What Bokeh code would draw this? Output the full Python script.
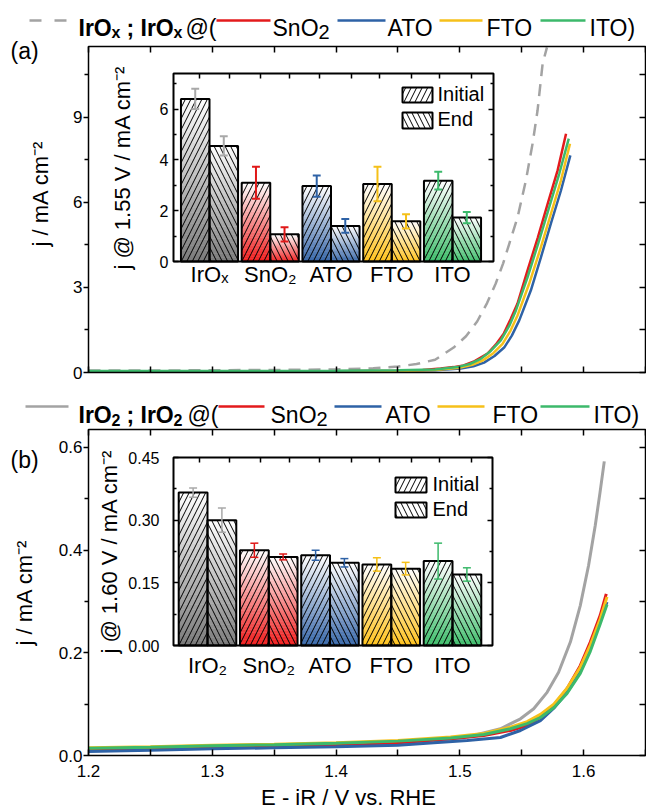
import numpy as np
from bokeh.plotting import figure
from bokeh.models import (Range1d, LinearAxis, FixedTicker, PrintfTickFormatter,
                          CustomJSTickFormatter)
from bokeh.layouts import column
from bokeh.embed import file_html
from bokeh.resources import INLINE
from bokeh.core.properties import value

FONT = "Liberation Sans"

# ---------------- panel (a) LSV data ----------------
E_a_IrOx = [1.20, 1.25, 1.30, 1.35, 1.40, 1.43, 1.45, 1.465, 1.48, 1.495, 1.505, 1.514, 1.522, 1.529,
            1.535, 1.540, 1.5466, 1.5534, 1.5588, 1.5628, 1.5669, 1.5704]
j_a_IrOx = [0.07, 0.07, 0.08, 0.09, 0.11, 0.15, 0.21, 0.30, 0.45, 0.88, 1.28, 1.80, 2.45, 3.14,
            3.85, 4.55, 5.47, 6.78, 8.08, 9.25, 10.90, 11.47]
E_a_SnO2 = [1.20, 1.30, 1.40, 1.45, 1.470, 1.4845, 1.495, 1.503, 1.512, 1.5224, 1.529, 1.5356, 1.541,
            1.5466, 1.5547, 1.563, 1.571, 1.579, 1.5858]
j_a_SnO2 = [0.03, 0.03, 0.04, 0.06, 0.09, 0.14, 0.19, 0.25, 0.40, 0.67, 0.98, 1.38, 1.88,
            2.43, 3.60, 4.76, 5.96, 7.13, 8.42]
E_a_ATO = [1.20, 1.30, 1.40, 1.45, 1.48, 1.5007, 1.511, 1.5196, 1.528, 1.5358, 1.542, 1.548, 1.5574,
           1.5655, 1.5736, 1.5817, 1.5893]
j_a_ATO = [0.03, 0.03, 0.03, 0.05, 0.08, 0.14, 0.22, 0.35, 0.58, 0.88, 1.30, 1.84, 2.90,
           4.06, 5.26, 6.42, 7.66]
E_a_FTO = [1.20, 1.30, 1.40, 1.45, 1.48, 1.4994, 1.510, 1.5183, 1.527, 1.5345, 1.541, 1.5466, 1.556,
           1.5655, 1.5736, 1.5817, 1.589]
j_a_FTO = [0.03, 0.03, 0.04, 0.05, 0.09, 0.17, 0.27, 0.42, 0.68, 1.01, 1.48, 2.01, 3.13,
           4.42, 5.60, 6.78, 8.07]
E_a_ITO = [1.20, 1.30, 1.40, 1.45, 1.48, 1.498, 1.508, 1.5169, 1.525, 1.5331, 1.540, 1.5453, 1.5547,
           1.5641, 1.5722, 1.5803, 1.588]
j_a_ITO = [0.05, 0.05, 0.06, 0.08, 0.11, 0.19, 0.30, 0.48, 0.76, 1.13, 1.65, 2.19, 3.36,
           4.66, 5.83, 7.01, 8.25]

# ---------------- panel (b) LSV data ----------------
E_b_IrO2 = [1.20, 1.25, 1.30, 1.35, 1.40, 1.45, 1.479, 1.506, 1.5328, 1.549, 1.5597, 1.5705, 1.5798,
            1.5893, 1.5973, 1.604, 1.6094, 1.6133, 1.6167]
j_b_IrO2 = [0.012, 0.015, 0.018, 0.020, 0.022, 0.025, 0.028, 0.036, 0.052, 0.0715, 0.091, 0.123, 0.162,
            0.221, 0.292, 0.370, 0.448, 0.513, 0.573]
E_b_SnO2 = [1.20, 1.25, 1.30, 1.35, 1.40, 1.45, 1.4925, 1.5194, 1.5409, 1.5544, 1.5651, 1.5759, 1.5866,
            1.5973, 1.6054, 1.6134, 1.6183]
j_b_SnO2 = [0.012, 0.014, 0.016, 0.019, 0.021, 0.025, 0.0325, 0.039, 0.0487, 0.0585, 0.0747, 0.0975, 0.130,
            0.175, 0.221, 0.273, 0.315]
E_b_ATO = [1.20, 1.25, 1.30, 1.35, 1.40, 1.45, 1.479, 1.506, 1.5328, 1.549, 1.5651, 1.5759, 1.5866,
           1.5973, 1.6054, 1.6134, 1.6189]
j_b_ATO = [0.008, 0.010, 0.013, 0.015, 0.017, 0.020, 0.0247, 0.0292, 0.035, 0.0487, 0.068, 0.092, 0.123,
           0.163, 0.211, 0.262, 0.299]
E_b_FTO = [1.20, 1.25, 1.30, 1.35, 1.40, 1.45, 1.4925, 1.5194, 1.5409, 1.5544, 1.5651, 1.5759, 1.5866,
           1.5973, 1.6054, 1.6134, 1.6189]
j_b_FTO = [0.015, 0.017, 0.020, 0.022, 0.025, 0.029, 0.036, 0.043, 0.055, 0.066, 0.080, 0.100, 0.131,
           0.172, 0.215, 0.266, 0.309]
E_b_ITO = [1.20, 1.25, 1.30, 1.35, 1.40, 1.45, 1.4925, 1.5194, 1.5409, 1.5544, 1.5651, 1.5759, 1.5866,
           1.5973, 1.6054, 1.6134, 1.6189]
j_b_ITO = [0.014, 0.016, 0.019, 0.021, 0.024, 0.028, 0.034, 0.041, 0.052, 0.062, 0.074, 0.093, 0.121,
           0.160, 0.203, 0.256, 0.294]

# ---------------- inset bar data ----------------
cats_a = ["IrOₓ", "SnO₂", "ATO", "FTO", "ITO"]
init_a = [6.40, 3.10, 2.97, 3.05, 3.18]
init_a_err = [0.40, 0.63, 0.42, 0.68, 0.35]
end_a = [4.55, 1.07, 1.40, 1.58, 1.73]
end_a_err = [0.38, 0.28, 0.27, 0.28, 0.22]

cats_b = ["IrO₂", "SnO₂", "ATO", "FTO", "ITO"]
init_b = [0.366, 0.228, 0.216, 0.194, 0.202]
init_b_err = [0.011, 0.017, 0.012, 0.016, 0.043]
end_b = [0.300, 0.212, 0.198, 0.184, 0.170]
end_b_err = [0.029, 0.007, 0.010, 0.015, 0.016]

x_ticks = [1.2, 1.3, 1.4, 1.5, 1.6]
x_minor = [1.25, 1.35, 1.45, 1.55, 1.65]

# ---------------- styles ----------------
C_GRAY = "#a3a3a3"
C_RED = "#e31a1c"
C_BLUE = "#2e62a6"
C_YEL = "#f6c01a"
C_GRN = "#3cb96b"
BAR_BASE = ["#7a7a7a", "#f01c1c", "#3766a8", "#ffc21a", "#3dbd6a"]
ERR_COL = ["#a8a8a8", "#e01818", "#2e62a6", "#f5c018", "#3cb96b"]
BLANK = "return '';"


def mix(hexc, t):
    r, g, b = int(hexc[1:3], 16), int(hexc[3:5], 16), int(hexc[5:7], 16)
    return "#%02x%02x%02x" % (round(r + (255 - r) * t), round(g + (255 - g) * t), round(b + (255 - b) * t))


def style_axis(ax, size="17px"):
    ax.major_label_text_font = FONT
    ax.major_label_text_font_size = size
    ax.major_label_text_color = "black"
    ax.axis_label_text_font = FONT
    ax.axis_label_text_font_style = "normal"
    ax.axis_label_text_font_size = "22px"
    ax.axis_label_text_color = "black"
    ax.axis_line_color = "black"
    ax.axis_line_width = 1.5
    ax.major_tick_line_color = "black"
    ax.minor_tick_line_color = "black"
    ax.major_tick_line_width = 1.5
    ax.minor_tick_line_width = 1.5


def mk_axis(p, side, loc, bounds, ticker, fmt=None, tin=0, tout=0, min_in=0, min_out=0, standoff=0,
            size="17px", label=None, label_standoff=0, line=True, lw=1.5, **kw):
    ax = LinearAxis(fixed_location=loc, bounds=bounds, ticker=ticker,
                    formatter=fmt if fmt is not None else CustomJSTickFormatter(code=BLANK), **kw)
    style_axis(ax, size)
    ax.axis_line_width = lw
    if not line:
        ax.axis_line_color = None
    ax.major_tick_in, ax.major_tick_out, ax.minor_tick_in, ax.minor_tick_out = tin, tout, min_in, min_out
    ax.major_label_standoff = standoff
    if label is not None:
        ax.axis_label = label
        ax.axis_label_standoff = label_standoff
    p.add_layout(ax, side)
    return ax


class Panel:
    """Maps reference-pixel layout positions to data coordinates of a full-canvas figure."""

    def __init__(self, fig_top, fig_h, box, xr, yr):
        self.fig_top, self.fig_h, self.box, self.xr, self.yr = fig_top, fig_h, box, xr, yr

    def X(self, px):
        b = self.box
        return self.xr[0] + (px - b["left"]) * (self.xr[1] - self.xr[0]) / (b["right"] - b["left"])

    def Y(self, py):
        b = self.box
        return self.yr[0] + (b["bottom"] - py) * (self.yr[1] - self.yr[0]) / (b["bottom"] - b["top"])


def main_fig(P, yticks, yminor, yfmt, ylabel, ytitle_bounds, ytitle_standoff, show_x):
    p = figure(width=646, height=P.fig_h,
               x_range=Range1d(P.X(0), P.X(646)),
               y_range=Range1d(P.Y(P.fig_top + P.fig_h), P.Y(P.fig_top)),
               output_backend="svg", toolbar_location=None,
               x_axis_location=None, y_axis_location=None, min_border=0)
    p.grid.visible = False
    p.outline_line_color = None
    p.background_fill_color = "white"
    p.border_fill_color = "white"
    x0, x1 = P.xr
    y0, y1 = P.yr
    xt = FixedTicker(ticks=x_ticks, minor_ticks=x_minor)
    yt = FixedTicker(ticks=yticks, minor_ticks=yminor)
    mk_axis(p, "below", y0, (x0, x1), xt,
            fmt=PrintfTickFormatter(format="%.1f") if show_x else None,
            tin=6, min_in=6, standoff=9 if show_x else 0, line=False)
    if show_x:
        mk_axis(p, "below", y0, (1.2, 1.62), FixedTicker(ticks=[]), label="E - iR / V vs. RHE",
                label_standoff=29, line=False)
    mk_axis(p, "above", y1, (x0, x1), xt, tin=6, min_in=6, line=False)
    mk_axis(p, "left", x0, (y0, y1), yt, fmt=PrintfTickFormatter(format=yfmt),
            tout=5, min_out=4, standoff=1, line=False)
    mk_axis(p, "left", x0, ytitle_bounds, FixedTicker(ticks=[]), label=ylabel,
            label_standoff=ytitle_standoff, line=False)
    mk_axis(p, "right", x1, (y0, y1), yt, tin=6, min_in=6, line=False)
    return p


def frame_box(p, P):
    p.quad(left=[P.xr[0]], right=[P.xr[1]], bottom=[P.yr[0]], top=[P.yr[1]],
           fill_color=None, line_color="black", line_width=1.5)


def add_inset(p, P, box, c1px, c5px, ymax, cats, init, init_err, end, end_err, yticks, yminor, yfmt,
              ylabel, tick_standoff, title_standoff, cat_standoff, err_w, leg, top_ticks_px):
    ux = 4.0 / (c5px - c1px)
    uy = ymax / (box["bottom"] - box["top"])

    def X(px):
        return 1 + (px - c1px) * ux

    def Y(py):
        return (box["bottom"] - py) * uy

    p.extra_x_ranges = {"ix": Range1d(X(0), X(646))}
    p.extra_y_ranges = {"iy": Range1d(Y(P.fig_top + P.fig_h), Y(P.fig_top))}
    kw = dict(x_range_name="ix", y_range_name="iy")
    xl, xr = X(box["left"]), X(box["right"])
    p.quad(left=[xl], right=[xr], bottom=[0], top=[ymax], fill_color="white", line_color=None, **kw)

    centers = np.arange(1, len(cats) + 1, dtype=float)
    W = 0.47
    NS = 30
    L, R, B, T, C = [], [], [], [], []
    for i, c in enumerate(centers):
        for lo, hi, v in [(c - W, c, init[i]), (c, c + W, end[i])]:
            for k in range(NS):
                L.append(lo); R.append(hi)
                B.append(v * k / NS); T.append(v * (k + 1) / NS)
                C.append(mix(BAR_BASE[i], (k + 0.5) / NS))
    p.quad(left=L, right=R, bottom=B, top=T, fill_color=C, line_color=C, line_width=0.6, **kw)
    hatch = dict(hatch_color="black", hatch_scale=11, hatch_weight=1, line_color="black", line_width=2)
    p.quad(left=centers - W, right=centers, bottom=0, top=init, fill_color=None,
           hatch_pattern="/", **hatch, **kw)
    p.quad(left=centers, right=centers + W, bottom=0, top=end, fill_color=None,
           hatch_pattern="\\", **hatch, **kw)

    xe = np.concatenate([centers - W / 2, centers + W / 2])
    v = np.array(list(init) + list(end))
    e = np.array(list(init_err) + list(end_err))
    cols = ERR_COL * 2
    cw = 0.065
    p.segment(x0=xe, y0=v - e, x1=xe, y1=v + e, line_color=cols, line_width=err_w, **kw)
    p.segment(x0=xe - cw, y0=v + e, x1=xe + cw, y1=v + e, line_color=cols, line_width=err_w, **kw)
    p.segment(x0=xe - cw, y0=v - e, x1=xe + cw, y1=v - e, line_color=cols, line_width=err_w, **kw)

    # inset legend
    (bx0, bx1), (iy0, iy1), (ey0, ey1), tx, (ty1, ty2) = leg
    p.quad(left=[X(bx0)] * 2, right=[X(bx1)] * 2, bottom=[Y(iy1), Y(ey1)], top=[Y(iy0), Y(ey0)],
           fill_color="white", line_color=None, **kw)
    p.quad(left=[X(bx0)], right=[X(bx1)], bottom=[Y(iy1)], top=[Y(iy0)], fill_color=None,
           hatch_pattern="/", **hatch, **kw)
    p.quad(left=[X(bx0)], right=[X(bx1)], bottom=[Y(ey1)], top=[Y(ey0)], fill_color=None,
           hatch_pattern="\\", **hatch, **kw)
    p.text(x=[X(tx)] * 2, y=[Y(ty1), Y(ty2)], text=["Initial", "End"], text_font=value(FONT),
           text_font_size="20px", text_baseline="middle", text_align="left", text_color="black", **kw)

    p.quad(left=[xl], right=[xr], bottom=[0], top=[ymax], fill_color=None, line_color="black",
           line_width=2, **kw)

    yt = FixedTicker(ticks=yticks, minor_ticks=yminor)
    mk_axis(p, "left", xl, (0, ymax), yt, fmt=PrintfTickFormatter(format=yfmt), tin=5, min_in=3,
            standoff=tick_standoff, size="16px", label=ylabel, label_standoff=title_standoff,
            line=False, **kw)
    ab = mk_axis(p, "below", 0, (xl, xr), FixedTicker(ticks=[1, 2, 3, 4, 5], minor_ticks=[]),
                 fmt=PrintfTickFormatter(format="%d"), standoff=cat_standoff, size="22px", line=False, **kw)
    ab.major_label_overrides = {i + 1: cats[i] for i in range(len(cats))}
    mk_axis(p, "above", ymax, (xl, xr), FixedTicker(ticks=[X(t) for t in top_ticks_px], minor_ticks=[]),
            tin=5, line=False, **kw)
    mk_axis(p, "right", xr, (0, ymax), yt, tin=5, min_in=3, line=False, **kw)


def txt(p, P, X, Y, s, size="23px", bold=False):
    p.text(x=[P.X(X)], y=[P.Y(Y)], text=[s], text_font=value(FONT), text_font_size=size,
           text_font_style="bold" if bold else "normal", text_color="black",
           text_baseline="alphabetic", text_align="left")


def sample(p, P, X0, X1, Y, color, dash="solid", width=2.5):
    p.line([P.X(X0), P.X(X1)], [P.Y(Y), P.Y(Y)], line_color=color, line_width=width, line_dash=dash)


TOP_TICKS = [199, 229, 260, 289, 319, 351, 379, 411, 439, 471]

# ================= panel (a) =================
PA = Panel(0, 390, dict(left=88, right=645, top=46, bottom=372), (1.2, 1.65), (0, 11.5))
pa = main_fig(PA, [0, 3, 6, 9], [1.5, 4.5, 7.5, 10.5], "%d", "j / mA cm⁻²", (1.14, 11.5), 36, False)
pa.line(E_a_IrOx, j_a_IrOx, line_color=C_GRAY, line_width=2.5, line_dash="12 8")
pa.line(E_a_SnO2, j_a_SnO2, line_color=C_RED, line_width=2.5)
pa.line(E_a_ATO, j_a_ATO, line_color=C_BLUE, line_width=2.5)
pa.line(E_a_FTO, j_a_FTO, line_color=C_YEL, line_width=2.5)
pa.line(E_a_ITO, j_a_ITO, line_color=C_GRN, line_width=2.5)
frame_box(pa, PA)

add_inset(pa, PA, dict(left=173, right=493, top=73, bottom=261), 209, 452, 7.4, cats_a,
          init_a, init_a_err, end_a, end_a_err, [0, 2, 4, 6], [1, 3, 5, 7], "%d",
          "j @ 1.55 V / mA cm⁻²", 5, 22, 0, 2,
          ((402, 432), (87, 102), (112, 128), 437, (93, 118)), TOP_TICKS)

# legend row (a)
YA, LA = 27, 20
sample(pa, PA, 29, 66, LA, C_GRAY, dash="12 13")
txt(pa, PA, 78, YA, "IrO", bold=True)
txt(pa, PA, 111, YA + 5, "x", size="16px", bold=True)
txt(pa, PA, 126, YA, ";", bold=True)
txt(pa, PA, 140, YA, "IrO", bold=True)
txt(pa, PA, 173, YA + 5, "x", size="16px", bold=True)
txt(pa, PA, 185, YA, "@(")
sample(pa, PA, 216, 270, LA, C_RED)
txt(pa, PA, 272, YA, "SnO")
txt(pa, PA, 318, YA + 4, "2", size="20px")
sample(pa, PA, 337, 385, LA, C_BLUE)
txt(pa, PA, 387, YA, "ATO")
sample(pa, PA, 439, 482, LA, C_YEL)
txt(pa, PA, 486, YA, "FTO")
sample(pa, PA, 540, 585, LA, C_GRN)
txt(pa, PA, 589, YA, "ITO)")
txt(pa, PA, 10, 50, "(a)")

# ================= panel (b) =================
PB = Panel(390, 422, dict(left=88, right=645, top=429, bottom=755), (1.2, 1.65), (0, 0.635))
pb = main_fig(PB, [0.0, 0.2, 0.4, 0.6], [0.1, 0.3, 0.5], "%.1f", "j / mA cm⁻²", (0, 0.635), 52, True)
pb.line(E_b_IrO2, j_b_IrO2, line_color=C_GRAY, line_width=3)
pb.line(E_b_SnO2, j_b_SnO2, line_color=C_RED, line_width=3)
pb.line(E_b_ATO, j_b_ATO, line_color=C_BLUE, line_width=3)
pb.line(E_b_FTO, j_b_FTO, line_color=C_YEL, line_width=3)
pb.line(E_b_ITO, j_b_ITO, line_color=C_GRN, line_width=3)
frame_box(pb, PB)

add_inset(pb, PB, dict(left=173, right=492, top=457, bottom=645), 207, 452, 0.45, cats_b,
          init_b, init_b_err, end_b, end_b_err, [0.0, 0.15, 0.30, 0.45], [0.075, 0.225, 0.375],
          "%.2f", "j @ 1.60 V / mA cm⁻²", 14, 3, 7, 1.5,
          ((395, 426), (477, 492), (502, 517), 432, (483, 508)), TOP_TICKS)

# legend row (b)
YB, LB = 414, 406
sample(pb, PB, 25, 68, LB, C_GRAY)
txt(pb, PB, 78, YB, "IrO", bold=True)
txt(pb, PB, 111, YB + 5, "2", size="16px", bold=True)
txt(pb, PB, 126, YB, ";", bold=True)
txt(pb, PB, 140, YB, "IrO", bold=True)
txt(pb, PB, 173, YB + 5, "2", size="16px", bold=True)
txt(pb, PB, 187, YB, "@(")
sample(pb, PB, 218, 264, LB, C_RED)
txt(pb, PB, 270, YB, "SnO")
txt(pb, PB, 316, YB + 4, "2", size="20px")
sample(pb, PB, 334, 381, LB, C_BLUE)
txt(pb, PB, 385, YB, "ATO")
sample(pb, PB, 437, 484, LB, C_YEL)
txt(pb, PB, 492, YB, "FTO")
sample(pb, PB, 540, 589, LB, C_GRN)
txt(pb, PB, 593, YB, "ITO)")
txt(pb, PB, 10, 459, "(b)")

layout = column(pa, pb, spacing=0)
open("out.html", "w").write(file_html(layout, INLINE))
